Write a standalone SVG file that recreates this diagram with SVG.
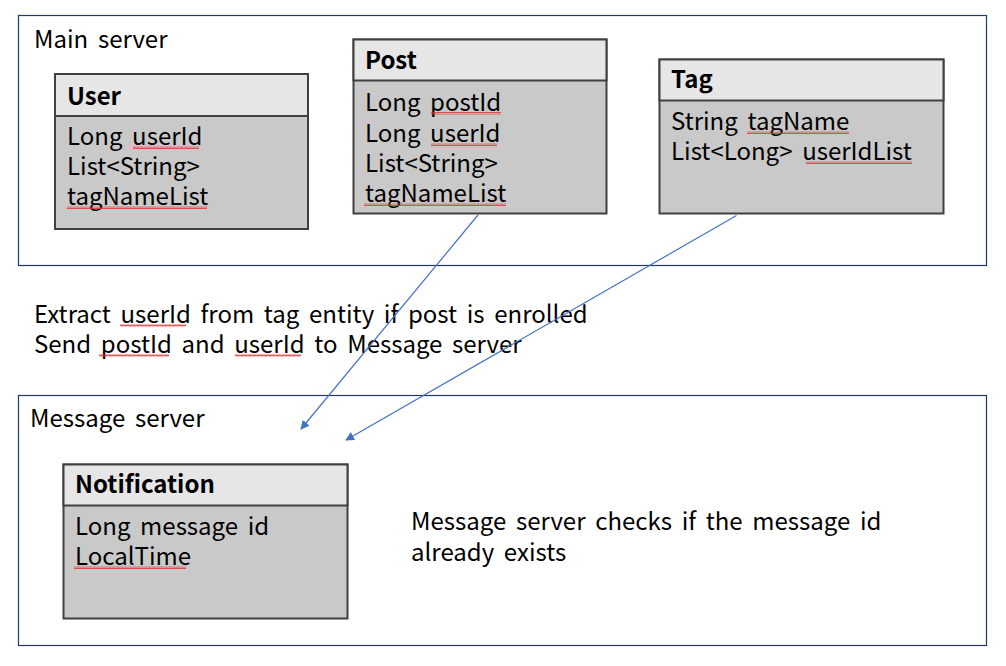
<svg xmlns="http://www.w3.org/2000/svg" width="1006" height="666" viewBox="0 0 1006 666">
<style>
text{font-family:"Noto Sans CJK KR","Noto Sans",sans-serif;font-size:24px;fill:#000;word-spacing:4.3px}
.b{font-weight:bold}
.frame{fill:#fff;stroke:#1f3864;stroke-width:1.2}
.hd{fill:#e7e6e6;stroke:#404040;stroke-width:2}
.bd{fill:#c9c9c9;stroke:#404040;stroke-width:2}
.conn{stroke:#4472c4;stroke-width:1.2;fill:none;marker-end:url(#ah)}
.sq{fill:url(#wave)}
</style>
<defs>
<marker id="ah" viewBox="0 0 10 10" refX="9" refY="5" markerWidth="9" markerHeight="9" markerUnits="userSpaceOnUse" orient="auto">
<path d="M0,0 L10,5 L0,10 z" fill="#4472c4"/>
</marker>
<pattern id="wave" width="4" height="3" patternUnits="userSpaceOnUse">
<path d="M0,2.5 L1,0.5 L2,2.5 L3,0.5 L4,2.5" stroke="#e03030" stroke-width="0.8" fill="none"/>
</pattern>
</defs>
<rect width="1006" height="666" fill="#fff"/>
<g id="main-server">
<rect class="frame" x="18.5" y="15.5" width="968" height="250"/>
<text x="34" y="48">Main server</text>
</g>
<g id="message-server">
<rect class="frame" x="18.5" y="395.5" width="968" height="250"/>
<text x="30" y="427">Message server</text>
</g>
<g id="user">
<rect class="bd" x="55" y="74" width="253" height="155"/>
<rect class="hd" x="55" y="74" width="253" height="42"/>
<text class="b" x="67" y="105">User</text>
<text x="67" y="145">Long userId</text>
<text x="67" y="175">List&lt;String&gt;</text>
<text x="67" y="205">tagNameList</text>
<rect class="sq" x="133" y="146" width="66" height="3"/>
<rect class="sq" x="67" y="206" width="140" height="3"/>
</g>
<g id="post">
<rect class="bd" x="353.5" y="39.5" width="253" height="174"/>
<rect class="hd" x="353.5" y="39.5" width="253" height="41"/>
<text class="b" x="365" y="69">Post</text>
<text x="365" y="111">Long postId</text>
<text x="365" y="142">Long userId</text>
<text x="365" y="172">List&lt;String&gt;</text>
<text x="365" y="202">tagNameList</text>
<rect class="sq" x="431" y="112" width="70" height="3"/>
<rect class="sq" x="431" y="143" width="66" height="3"/>
<rect class="sq" x="364" y="203" width="142" height="3"/>
</g>
<g id="tag">
<rect class="bd" x="659.5" y="59.5" width="284" height="154"/>
<rect class="hd" x="659.5" y="59.5" width="284" height="41"/>
<text class="b" x="671" y="88">Tag</text>
<text x="671" y="130">String tagName</text>
<text x="671" y="160">List&lt;Long&gt; userIdList</text>
<rect class="sq" x="747" y="131" width="102" height="3"/>
<rect class="sq" x="806" y="161" width="106" height="3"/>
</g>
<g id="notification">
<rect class="bd" x="63.5" y="464.5" width="284" height="154"/>
<rect class="hd" x="63.5" y="464.5" width="284" height="41"/>
<text class="b" x="75" y="493">Notification</text>
<text x="75" y="535">Long message id</text>
<text x="75" y="565">LocalTime</text>
<rect class="sq" x="74" y="566" width="112" height="3"/>
</g>
<g id="notes">
<text x="34" y="323">Extract userId from tag entity if post is enrolled</text>
<text x="34" y="353">Send postId and userId to Message server</text>
<text x="411" y="530">Message server checks if the message id</text>
<text x="411" y="561">already exists</text>
<rect class="sq" x="120" y="324" width="66" height="3"/>
<rect class="sq" x="99" y="354" width="70" height="3"/>
<rect class="sq" x="235" y="354" width="66" height="3"/>
</g>
<g id="connectors">
<line class="conn" x1="478" y1="215" x2="301" y2="429"/>
<line class="conn" x1="736.5" y1="215.5" x2="346" y2="440"/>
</g>
</svg>
